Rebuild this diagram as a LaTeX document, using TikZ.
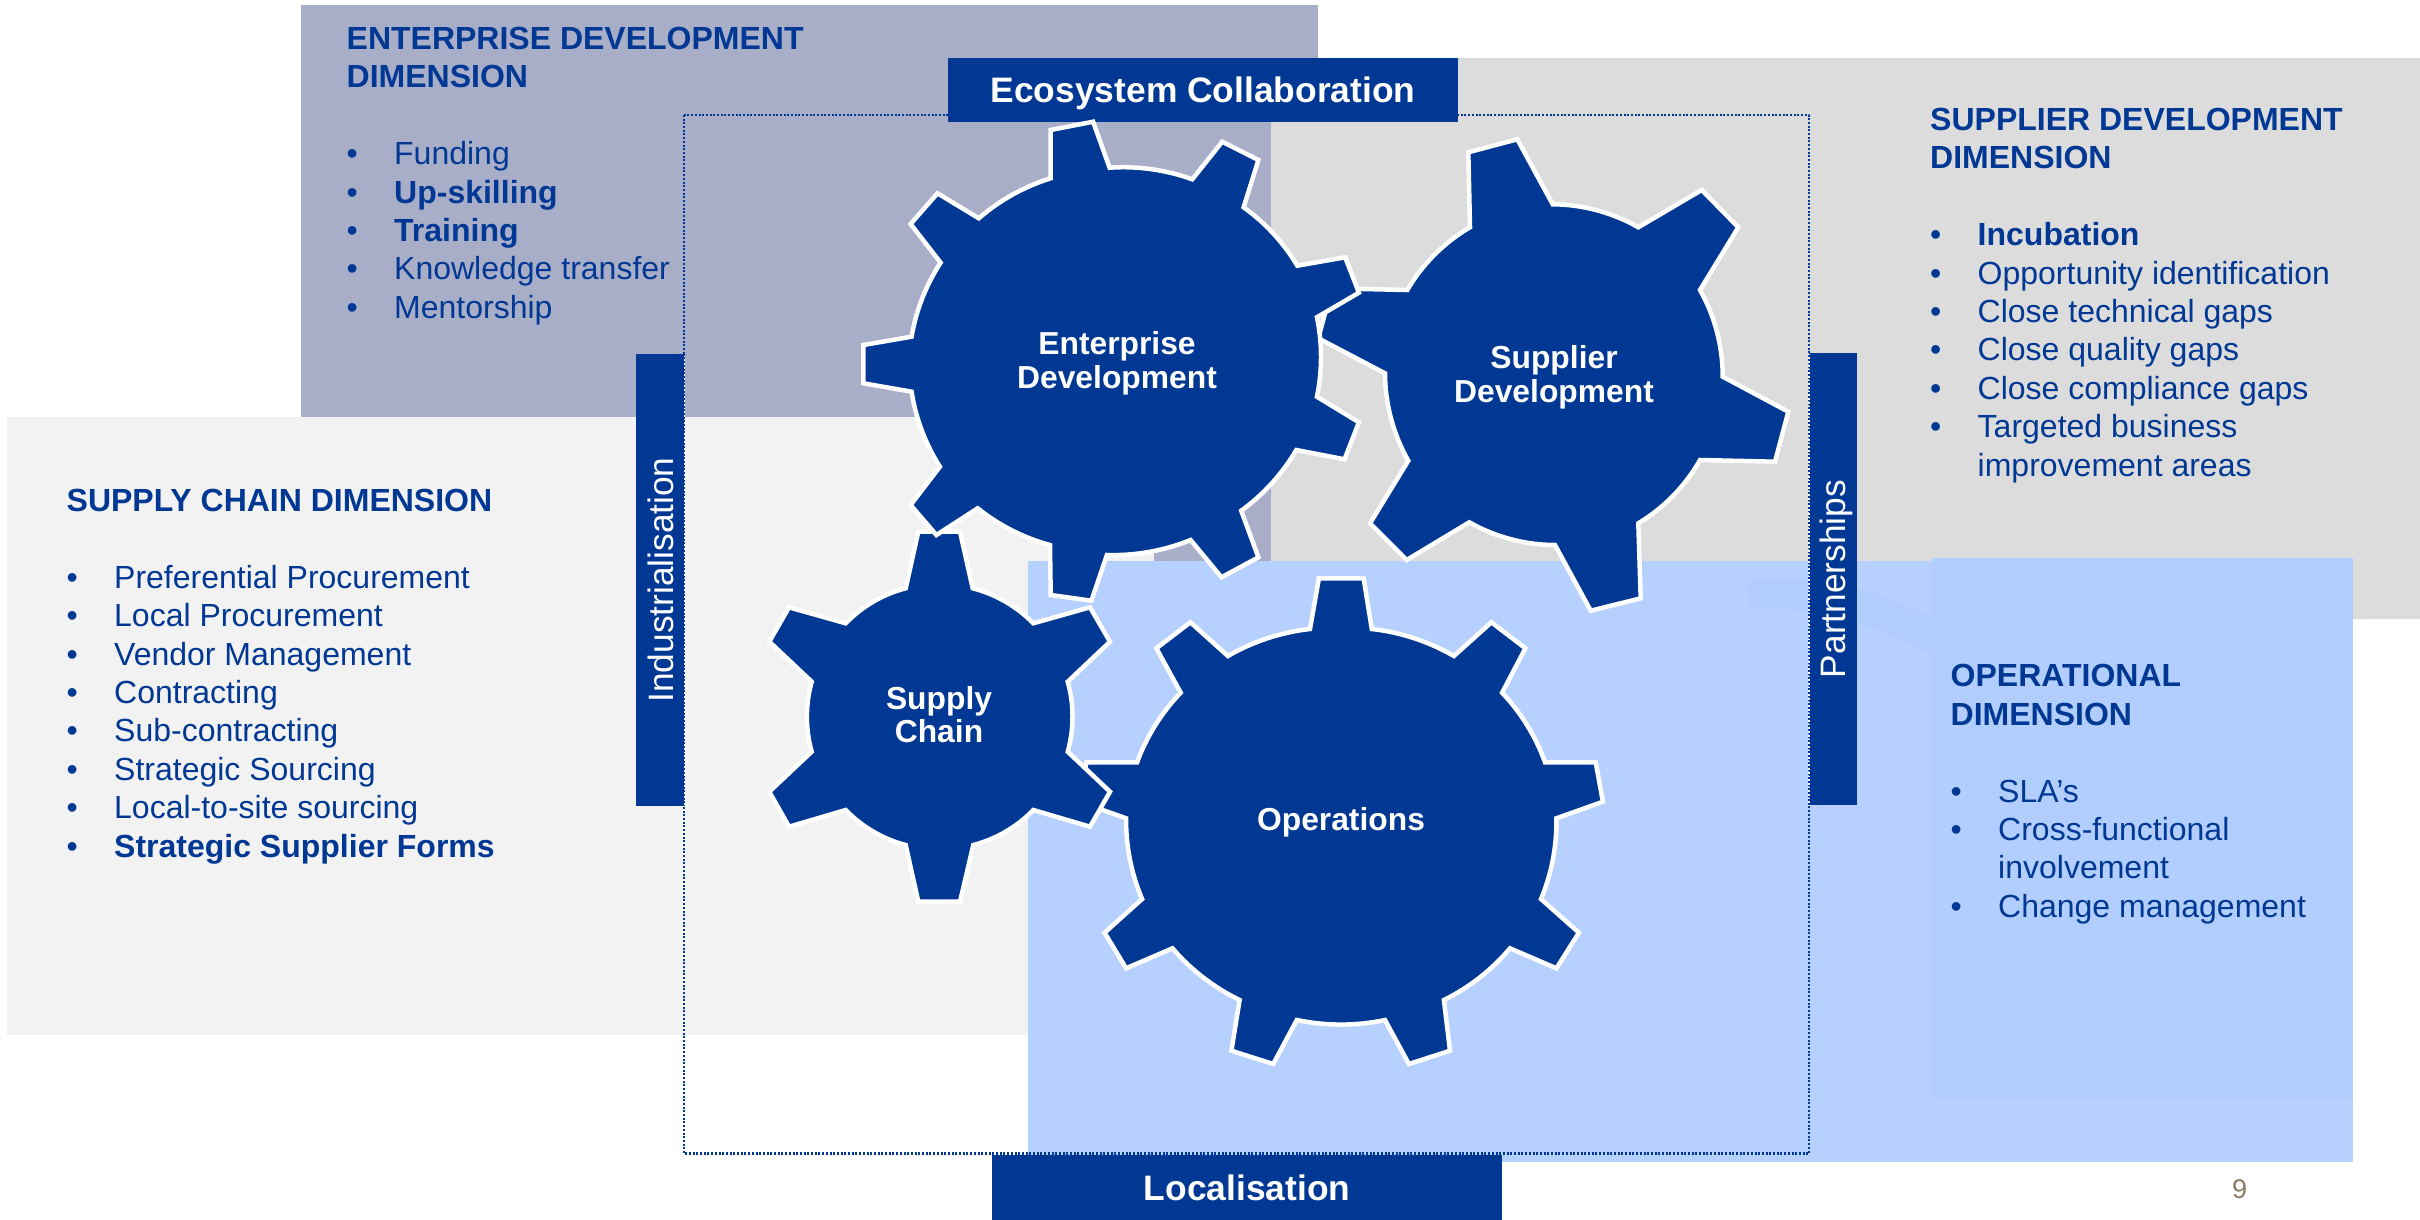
\documentclass[tikz,border=0pt]{standalone}
\usepackage{fontspec}
\setmainfont{Liberation Sans}
\definecolor{navy}{HTML}{003894}
\definecolor{entpanel}{HTML}{A9AEC8}
\definecolor{suppanel}{HTML}{DCDCDC}
\definecolor{chainpanel}{HTML}{F2F2F2}
\definecolor{oppanel}{HTML}{B6D1FF}
\definecolor{opdark}{HTML}{B1CEFE}
\definecolor{oparc}{HTML}{B2CEFE}
\definecolor{pagenum}{HTML}{8C7B64}
\newcommand{\blt}[1]{\makebox[47.5pt][l]{•}#1}
\newcommand{\cnt}[1]{\makebox[47.5pt][l]{}#1}
\newcommand{\fs}{\rule{0pt}{25pt}}
\tikzset{
  gearshape/.style={fill=navy,draw=white,line width=4.5pt,line join=miter,miter limit=6},
  arcA/.style={bend left=12,looseness=0.85},
  arcB/.style={bend left=15,looseness=0.85},
  arcC/.style={bend left=16,looseness=0.85},
  paneltext/.style={anchor=north west,inner sep=0pt,align=left,text=navy,font=\fontsize{32}{38.45}\selectfont},
  gearlabel/.style={anchor=base,inner sep=0pt,align=center,text=white,font=\fontsize{31.8}{34.5}\selectfont\bfseries},
  hbar/.style={fill=navy,text=white,inner sep=0pt,minimum width=510.5pt,minimum height=64.5pt,text height=25pt,text depth=0pt,font=\fontsize{35.4}{40}\selectfont\bfseries},
  vbar/.style={fill=navy,text=white,inner sep=0pt,rotate=90,minimum width=452.5pt,minimum height=48.6pt,text height=25.5pt,text depth=0pt,font=\fontsize{35.3}{40}\selectfont},
  dotline/.style={draw=navy,line width=2.4pt,dash pattern=on 2pt off 1.7pt},
  dotwhite/.style={draw=white,line width=1.6pt,dash pattern=on 1.7pt off 2pt,dash phase=2pt}
}
\begin{document}
\begin{tikzpicture}[x=1pt,y=-1pt]
\useasboundingbox (0,0) rectangle (2420,1220);
% panels
\fill[entpanel] (301,5) rectangle (1318,600);
\fill[suppanel] (1271,58) rectangle (2420,619);
\fill[chainpanel] (7,417) rectangle (1154,1035);
\fill[oppanel] (1028,561) rectangle (2353,1162);
\fill[oparc] (1747,579) .. controls (1830,575) and (1890,595) .. (1932,618) -- (1932,656) .. controls (1890,630) and (1820,605) .. (1750,609) -- cycle;
\fill[opdark] (1932,558) rectangle (2353,1098);
% dotted frame
\draw[dotline] (684,115) rectangle (1809,1153.5);
% bars
\node[hbar] (eco) at (1203,90) {Ecosystem Collaboration};
\node[hbar,minimum height=65pt,minimum width=510pt] (loc) at (1247,1187.5) {Localisation};
\node[vbar] (ind) at (660.3,580) {Industrialisation};
\node[vbar] (par) at (1833,579) {Partnerships};
\draw[dotwhite] (684.6,354) -- (684.6,806);
\draw[dotwhite] (1809,352) -- (1809,806);
% gears
\path[gearshape] (1310,629) -- (1318.9,578.3) -- (1363.6,578.3) -- (1371.8,629)
  to[arcA] (1453.9,656) -- (1491.4,622.3) -- (1525.4,648.3) -- (1502.1,692.7)
  to[arcA] (1545,762.3) -- (1595.7,762.3) -- (1602.9,801.7) -- (1556.4,818.3)
  to[arcA] (1541,899) -- (1578.9,932.7) -- (1556.4,968.3) -- (1510,948.3)
  to[arcA] (1443.9,1000) -- (1450,1050.7) -- (1408.9,1064) -- (1385,1020)
  to[arcA] (1296.8,1020) -- (1273.2,1064) -- (1231.4,1050.7) -- (1239.6,1000)
  to[arcA] (1172.5,948.3) -- (1126.1,968.3) -- (1104.6,932.7) -- (1142.1,899)
  to[arcA] (1126.1,818.3) -- (1079.3,801.7) -- (1086.4,762.3) -- (1137.1,762.3)
  to[arcA] (1180.7,692.7) -- (1156.4,648.3) -- (1190.4,622.3) -- (1227.9,656)
  to[arcA] (1310,629) -- cycle;
\path[gearshape] (905.7,588.3) -- (918.3,531.7) -- (960,531.7) -- (972.7,588.3)
  to[arcC] (1033.3,623.3) -- (1090,607.3) -- (1110,641.7) -- (1067.7,681.7)
  to[arcC] (1067.7,751.7) -- (1110,791.7) -- (1090,826.7) -- (1033.3,810)
  to[arcC] (973.3,845) -- (960,901.7) -- (918.3,901.7) -- (905.7,845)
  to[arcC] (845.7,810) -- (789,826.7) -- (769.3,791.7) -- (811.7,751.7)
  to[arcC] (811.7,681.7) -- (769.3,641.7) -- (789,607.3) -- (845.7,623.3)
  to[arcC] (905.7,588.3) -- cycle;
\path[gearshape] (1470,227.3) -- (1468.3,152.3) -- (1517.3,139.3) -- (1552.7,204.3)
  to[arcB] (1638.3,227.3) -- (1701.7,190) -- (1738.3,227.3) -- (1700,290)
  to[arcB] (1722.7,376.7) -- (1788.3,411.7) -- (1775,461.7) -- (1700,460)
  to[arcB] (1638.3,523.3) -- (1640.7,598.3) -- (1590.7,610.7) -- (1555,545)
  to[arcB] (1469.3,522.3) -- (1406.7,560) -- (1370,523.3) -- (1408.3,460.7)
  to[arcB] (1385,373.3) -- (1318.3,338.3) -- (1331.7,288.3) -- (1407.3,290)
  to[arcB] (1470,227.3) -- cycle;
\path[gearshape] (1050.7,178.3) -- (1050.7,130) -- (1093.1,121.7) -- (1109.6,167.7)
  to[arcA] (1192.3,179.3) -- (1222.2,141.7) -- (1258.4,160) -- (1243.6,207.3)
  to[arcA] (1297.3,265.7) -- (1345.2,257.3) -- (1358.9,292.7) -- (1316.9,317.3)
  to[arcA] (1316.9,396.7) -- (1358.9,422.3) -- (1344.5,459.3) -- (1296.3,450)
  to[arcA] (1241.2,510.7) -- (1258.4,557.3) -- (1221.5,577.3) -- (1190.6,540)
  to[arcA] (1106.9,555) -- (1091.4,600.7) -- (1050.7,595) -- (1050,545)
  to[arcA] (977.7,508.3) -- (936.4,535) -- (910.6,505) -- (939.9,466.7)
  to[arcA] (911.6,391.7) -- (863.4,383.3) -- (863.4,345) -- (911.6,336.7)
  to[arcA] (940.6,262.7) -- (910.6,224) -- (937.5,193.3) -- (978.8,218.3)
  to[arcA] (1050.7,178.3) -- cycle;
% gear labels
\node[gearlabel] (gEnt) at (1117,388.5) {Enterprise\\Development};
\node[gearlabel] (gSup) at (1554,402.5) {Supplier\\Development};
\node[gearlabel,font=\fontsize{31.8}{33}\selectfont\bfseries] (gCha) at (939,742.5) {Supply\\Chain};
\node[gearlabel] (gOpe) at (1341,830.7) {Operations};
% panel texts
\node[paneltext] (tEnt) at (346.5,24) {\fs\textbf{ENTERPRISE DEVELOPMENT}\\\textbf{DIMENSION}\\[38.45pt]
\blt{Funding}\\\blt{\textbf{Up-skilling}}\\\blt{\textbf{Training}}\\\blt{Knowledge transfer}\\\blt{Mentorship}};
\node[paneltext] (tSup) at (1930,105) {\fs\textbf{SUPPLIER DEVELOPMENT}\\\textbf{DIMENSION}\\[38.45pt]
\blt{\textbf{Incubation}}\\\blt{Opportunity identification}\\\blt{Close technical gaps}\\\blt{Close quality gaps}\\\blt{Close compliance gaps}\\\blt{Targeted business}\\\cnt{improvement areas}};
\node[paneltext] (tCha) at (66.5,486) {\fs\textbf{SUPPLY CHAIN DIMENSION}\\[38.45pt]
\blt{Preferential Procurement}\\\blt{Local Procurement}\\\blt{Vendor Management}\\\blt{Contracting}\\\blt{Sub-contracting}\\\blt{Strategic Sourcing}\\\blt{Local-to-site sourcing}\\\blt{\textbf{Strategic Supplier Forms}}};
\node[paneltext] (tOpe) at (1950.5,661.5) {\fs\textbf{OPERATIONAL}\\\textbf{DIMENSION}\\[38.45pt]
\blt{SLA’s}\\\blt{Cross-functional}\\\cnt{involvement}\\\blt{Change management}};
\node[anchor=base,inner sep=0pt,text=pagenum,font=\fontsize{27}{30}\selectfont] (pg) at (2239.5,1198) {9};
\end{tikzpicture}
\end{document}
